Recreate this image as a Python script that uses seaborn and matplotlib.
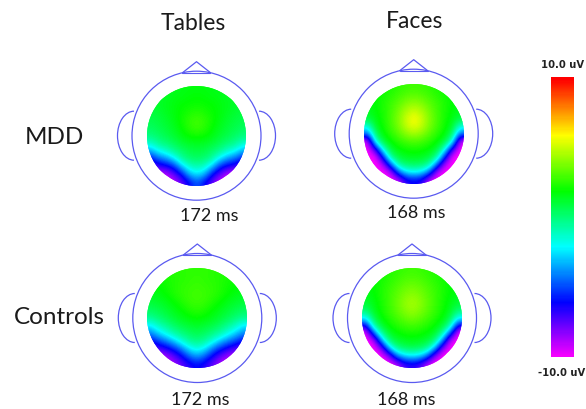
import numpy as np
import matplotlib
matplotlib.use('Agg')
import matplotlib.pyplot as plt
import seaborn as sns
from matplotlib.colors import LinearSegmentedColormap
from matplotlib.patches import Arc, Circle

# Scalp voltages (uV), top to bottom, from the midline out to the edge
# (the maps are mirrored left/right)
mdd_tables = [
    [1.8, 1.8, 1.7, 1.6, 1.5, 1.5, 1.4],
    [2.0, 1.9, 1.8, 1.7, 1.5, 1.4, 1.3],
    [2.2, 2.1, 2.0, 1.8, 1.6, 1.4, 1.2],
    [2.6, 2.4, 2.1, 1.8, 1.5, 1.2, 1.0],
    [3.0, 2.7, 2.2, 1.7, 1.3, 1.0, 0.8],
    [2.9, 2.6, 2.0, 1.5, 1.1, 0.8, 0.5],
    [2.2, 2.1, 1.7, 1.2, 0.8, 0.4, 0.0],
    [1.5, 1.4, 1.1, 0.6, 0.1, -0.3, -1.3],
    [1.0, 0.8, 0.3, -0.3, -1.3, -2.0, -3.5],
    [0.4, 0.2, -0.5, -2.5, -3.8, -4.5, -6.0],
    [-0.8, -1.2, -3.0, -5.5, -6.5, -7.0, -8.0],
    [-2.3, -3.2, -6.0, -7.5, -9.0, -9.0, -9.0],
    [-4.5, -6.0, -7.5, -9.0, -9.5, -9.5, -9.5],
]
mdd_faces = [
    [3.0, 2.9, 2.7, 2.4, 2.2, 2.0, 1.9],
    [3.5, 3.3, 3.0, 2.6, 2.3, 2.0, 1.8],
    [4.3, 4.0, 3.4, 2.9, 2.4, 2.0, 1.7],
    [5.2, 4.7, 3.8, 3.0, 2.4, 1.9, 1.5],
    [6.0, 5.2, 4.0, 3.1, 2.3, 1.7, 1.0],
    [5.7, 5.0, 3.9, 3.0, 2.2, 1.4, -1.5],
    [4.5, 4.1, 3.3, 2.6, 1.9, 0.5, -4.5],
    [3.2, 3.0, 2.6, 2.0, 1.1, -1.5, -9.5],
    [2.3, 2.2, 1.9, 1.2, -1.5, -7.0, -10.0],
    [1.6, 1.5, 1.1, -0.3, -5.5, -10.0, -10.0],
    [0.5, 0.3, -0.5, -4.5, -9.0, -10.0, -10.0],
    [-2.0, -2.4, -4.5, -9.0, -10.0, -10.0, -10.0],
    [-6.0, -6.5, -9.0, -10.0, -10.0, -10.0, -10.0],
]
ctrl_tables = [
    [2.7, 2.7, 2.6, 2.5, 2.4, 2.3, 2.2],
    [2.8, 2.7, 2.6, 2.5, 2.3, 2.1, 2.0],
    [2.9, 2.8, 2.7, 2.5, 2.2, 2.0, 1.8],
    [3.0, 2.9, 2.7, 2.4, 2.0, 1.7, 1.5],
    [2.9, 2.8, 2.4, 2.0, 1.6, 1.3, 1.1],
    [2.6, 2.4, 2.0, 1.6, 1.2, 0.8, 0.5],
    [2.1, 1.9, 1.6, 1.2, 0.7, 0.2, -0.3],
    [1.4, 1.2, 0.9, 0.4, -0.3, -1.0, -2.2],
    [0.8, 0.5, 0.0, -0.6, -1.6, -2.6, -4.0],
    [0.0, -0.4, -1.4, -2.8, -4.0, -5.0, -6.0],
    [-1.5, -2.2, -4.0, -5.5, -6.5, -7.2, -8.0],
    [-3.5, -4.5, -6.2, -7.5, -8.5, -9.0, -9.0],
    [-5.8, -6.5, -7.5, -8.5, -9.3, -9.5, -9.5],
]
ctrl_faces = [
    [3.0, 2.9, 2.7, 2.5, 2.3, 2.1, 2.0],
    [3.3, 3.2, 2.9, 2.6, 2.3, 2.0, 1.9],
    [3.8, 3.6, 3.2, 2.8, 2.4, 2.0, 1.8],
    [4.2, 3.9, 3.4, 2.9, 2.4, 1.9, 1.6],
    [4.6, 4.2, 3.5, 2.9, 2.3, 1.7, 1.2],
    [4.4, 4.0, 3.4, 2.8, 2.2, 1.5, 0.2],
    [3.8, 3.5, 3.0, 2.5, 1.9, 0.8, -2.0],
    [3.0, 2.8, 2.5, 2.0, 1.2, -0.6, -6.5],
    [2.3, 2.2, 1.9, 1.3, -0.5, -5.0, -10.0],
    [1.6, 1.5, 1.1, 0.1, -4.0, -9.5, -10.0],
    [0.6, 0.3, -0.4, -3.5, -8.5, -10.0, -10.0],
    [-2.4, -2.8, -4.5, -8.5, -10.0, -10.0, -10.0],
    [-6.5, -7.0, -9.0, -10.0, -10.0, -10.0, -10.0],
]
panel_values = [mdd_tables, mdd_faces, ctrl_tables, ctrl_faces]
panel_times = ['172 ms', '168 ms', '172 ms', '168 ms']
columns = ['Tables', 'Faces']
groups = ['MDD', 'Controls']

W, H = 586, 409
LINE = '#5a5af0'
# disc centres in pixels
centres = [(196.5, 135.7), (413.7, 133.7), (197.3, 318), (412, 318)]
time_pos = [(209, 216), (416, 213), (200, 400), (406, 400)]

sns.set_theme(style='white')
plt.rcParams['font.family'] = ['Lato', 'DejaVu Sans']

cmap = LinearSegmentedColormap.from_list(
    'erp', ['#ff00ff', '#0000ff', '#00ffff', '#00ff00', '#ffff00', '#ff0000'])

fig = plt.figure(figsize=(W / 100, H / 100), dpi=100, facecolor='white')
cax = fig.add_axes([551.3 / W, 1 - 356.7 / H, 22.4 / W, 279.4 / H])

UNIT = 13 / 100  # heatmap cells per pixel
for i, (vals, (cx, cy)) in enumerate(zip(panel_values, centres)):
    half = np.array(vals)
    grid = np.hstack([half[:, :0:-1], half])
    ax = fig.add_axes([(cx - 90) / W, 1 - (cy + 90) / H, 180 / W, 180 / H])
    sns.heatmap(grid, ax=ax, cmap=cmap, vmin=-10, vmax=10, xticklabels=False,
                yticklabels=False, cbar=i == 0, cbar_ax=cax if i == 0 else None,
                cbar_kws={'ticks': []})
    disc = Circle((6.5, 6.5), 6.5, transform=ax.transData)
    ax.collections[0].set_clip_path(disc)
    # smooth the read-off grid the way the mapping software renders it
    im = ax.imshow(grid, cmap=cmap, vmin=-10, vmax=10, extent=(0, 13, 13, 0),
                   interpolation='bicubic', aspect='equal', zorder=1.5)
    im.set_clip_path(disc)

    r = 64.5 * UNIT
    ax.add_patch(Circle((6.5, 6.5), r, fill=False, ec=LINE, lw=0.9))
    ax.plot([6.5 - 14 * UNIT, 6.5, 6.5 + 14 * UNIT],
            [6.5 - 63 * UNIT, 6.5 - 74 * UNIT, 6.5 - 63 * UNIT], color=LINE, lw=0.9)
    ax.plot([6.5 - 14 * UNIT, 6.5 + 14 * UNIT], [6.5 - 63 * UNIT] * 2, color=LINE, lw=0.8)
    ear_w, ear_h = 33 * UNIT, 49 * UNIT
    ax.add_patch(Arc((6.5 - 62.5 * UNIT, 6.5), ear_w, ear_h, theta1=90, theta2=270, ec=LINE, lw=0.9))
    ax.add_patch(Arc((6.5 + 62.5 * UNIT, 6.5), ear_w, ear_h, theta1=-90, theta2=90, ec=LINE, lw=0.9))

    ax.set_xlim(6.5 - 90 * UNIT, 6.5 + 90 * UNIT)
    ax.set_ylim(6.5 + 90 * UNIT, 6.5 - 90 * UNIT)
    ax.axis('off')

cax.collections[-1].set_edgecolor('face')
for s in cax.spines.values():
    s.set_visible(False)
cax.tick_params(length=0)


def label(x, y, text, size, **kw):
    fig.text(x / W, 1 - y / H, text, fontsize=size, ha='center', va='center', color='#1a1a1a', **kw)


label(193, 24, columns[0], 16.5)
label(415, 22, columns[1], 16.5)
label(54, 137, groups[0], 17.5)
label(59, 317, groups[1], 17.5)
for (x, y), t in zip(time_pos, panel_times):
    label(x, y, t, 13)
fig.text(563 / W, 1 - 64.5 / H, '10.0 uV', fontsize=7.2, fontweight='bold', ha='center',
         va='center', family='DejaVu Sans', color='#222222')
fig.text(561.5 / W, 1 - 372.5 / H, '-10.0 uV', fontsize=7.2, fontweight='bold', ha='center',
         va='center', family='DejaVu Sans', color='#222222')

fig.savefig('out.png', dpi=100)
